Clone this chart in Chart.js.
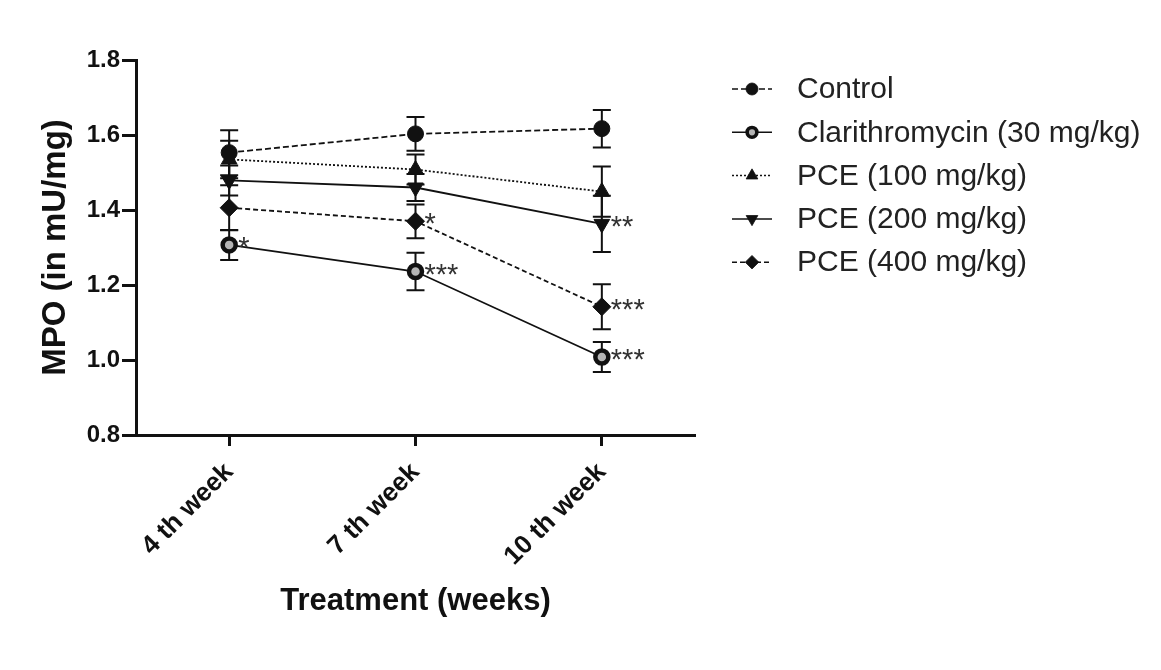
<!DOCTYPE html>
<html>
<head>
<meta charset="utf-8">
<script src="https://cdn.jsdelivr.net/npm/chart.js@4/dist/chart.umd.min.js"></script>
<style>
    body { margin: 0; background: #fff; }
    canvas { display: block; }
</style>
</head>
<body>
<canvas id="chart" width="1161" height="670"></canvas>
<script>
// weeks on the x axis
const weeks = ["4 th week", "7 th week", "10 th week"];

// group means (MPO, mU/mg)
const control = [1.553, 1.603, 1.617];
const clarithromycin = [1.307, 1.236, 1.008];
const pce100 = [1.535, 1.508, 1.449];
const pce200 = [1.479, 1.460, 1.363];
const pce400 = [1.406, 1.370, 1.142];

// error bars (+/-)
const controlErr = [0.06, 0.045, 0.05];
const clarithromycinErr = [0.04, 0.05, 0.04];
const pce100Err = [0.05, 0.04, 0.067];
const pce200Err = [0.04, 0.036, 0.075];
const pce400Err = [0.06, 0.045, 0.06];

// significance marks
const controlStars = ["", "", ""];
const clarithromycinStars = ["*", "***", "***"];
const pce100Stars = ["", "", ""];
const pce200Stars = ["", "", "**"];
const pce400Stars = ["", "*", "***"];

const yTicks = [0.8, 1.0, 1.2, 1.4, 1.6, 1.8];

const ink = "#111";
const font = "'Liberation Sans', Arial, sans-serif";

function series(label, data, err, stars, style) {
    return Object.assign({
        label: label,
        data: data,
        errors: err,
        stars: stars,
        borderColor: ink,
        backgroundColor: ink,
        pointBorderColor: ink,
        pointBackgroundColor: ink,
        borderWidth: 1.8,
        pointRadius: 8,
        pointBorderWidth: 1,
        tension: 0,
        fill: false
    }, style);
}

const datasets = [
    series("Control", control, controlErr, controlStars, {
        pointStyle: "circle", borderDash: [6, 3]
    }),
    series("Clarithromycin (30 mg/kg)", clarithromycin, clarithromycinErr, clarithromycinStars, {
        pointStyle: "circle", pointRadius: 6.5, pointBorderWidth: 4.5, pointBackgroundColor: "#b5b5b5"
    }),
    series("PCE (100 mg/kg)", pce100, pce100Err, pce100Stars, {
        pointStyle: "triangle", pointRadius: 9, borderDash: [2, 2]
    }),
    series("PCE (200 mg/kg)", pce200, pce200Err, pce200Stars, {
        pointStyle: "triangle", pointRadius: 9, pointRotation: 180
    }),
    series("PCE (400 mg/kg)", pce400, pce400Err, pce400Stars, {
        pointStyle: "rectRot", pointRadius: 9, borderDash: [5, 3]
    })
];

// error bars under the markers
const errorBars = {
    id: "errorBars",
    beforeDatasetsDraw(chart) {
        const ctx = chart.ctx;
        const y = chart.scales.y;
        ctx.save();
        ctx.strokeStyle = ink;
        ctx.lineWidth = 2;
        chart.data.datasets.forEach((ds, i) => {
            const meta = chart.getDatasetMeta(i);
            meta.data.forEach((pt, j) => {
                const top = y.getPixelForValue(ds.data[j] + ds.errors[j]);
                const bottom = y.getPixelForValue(ds.data[j] - ds.errors[j]);
                ctx.beginPath();
                ctx.moveTo(pt.x, top);
                ctx.lineTo(pt.x, bottom);
                ctx.moveTo(pt.x - 9, top);
                ctx.lineTo(pt.x + 9, top);
                ctx.moveTo(pt.x - 9, bottom);
                ctx.lineTo(pt.x + 9, bottom);
                ctx.stroke();
            });
        });
        ctx.restore();
    }
};

// asterisks next to the points
const starLabels = {
    id: "starLabels",
    afterDatasetsDraw(chart) {
        const ctx = chart.ctx;
        ctx.save();
        ctx.fillStyle = "#333";
        ctx.font = "29px " + font;
        ctx.textAlign = "left";
        ctx.textBaseline = "middle";
        chart.data.datasets.forEach((ds, i) => {
            const meta = chart.getDatasetMeta(i);
            meta.data.forEach((pt, j) => {
                if (ds.stars[j]) ctx.fillText(ds.stars[j], pt.x + 9, pt.y + 4);
            });
        });
        ctx.restore();
    }
};

// legend at the right, line + marker + text
const sideLegend = {
    id: "sideLegend",
    afterDraw(chart) {
        const ctx = chart.ctx;
        const x0 = 732, x1 = 772, tx = 797;
        ctx.save();
        chart.data.datasets.forEach((ds, i) => {
            const cy = 89 + i * 43.3;
            ctx.strokeStyle = ink;
            ctx.lineWidth = 1.5;
            ctx.setLineDash(ds.borderDash || []);
            ctx.beginPath();
            ctx.moveTo(x0, cy);
            ctx.lineTo(x1, cy);
            ctx.stroke();
            ctx.setLineDash([]);
            ctx.fillStyle = ds.pointBackgroundColor;
            ctx.strokeStyle = ink;
            ctx.lineWidth = ds.pointBorderWidth * 0.8;
            Chart.helpers.drawPoint(ctx, {
                pointStyle: ds.pointStyle,
                radius: ds.pointRadius * 0.75,
                rotation: ds.pointRotation || 0,
                borderWidth: ds.pointBorderWidth * 0.8
            }, (x0 + x1) / 2, cy);
            ctx.fillStyle = "#222";
            ctx.font = "30px " + font;
            ctx.textAlign = "left";
            ctx.textBaseline = "middle";
            ctx.fillText(ds.label, tx, cy + 1);
        });
        ctx.restore();
    }
};

new Chart(document.getElementById("chart"), {
    type: "line",
    data: {
        labels: weeks,
        datasets: datasets
    },
    plugins: [errorBars, starLabels, sideLegend],
    options: {
        responsive: false,
        animation: false,
        layout: {
            padding: { left: 0, top: 60, right: 466, bottom: 0 }
        },
        plugins: {
            legend: { display: false },
            tooltip: { enabled: false }
        },
        scales: {
            x: {
                type: "category",
                offset: true,
                grid: { drawOnChartArea: false, tickLength: 11, tickWidth: 3, tickColor: ink },
                border: { color: ink, width: 3 },
                ticks: {
                    minRotation: 45,
                    maxRotation: 45,
                    color: ink,
                    padding: 11,
                    font: { family: font, size: 26, weight: "bold" }
                },
                title: {
                    display: true,
                    text: "Treatment (weeks)",
                    color: ink,
                    font: { family: font, size: 31, weight: "bold" },
                    padding: { top: 0, bottom: 50 }
                },
                afterFit(scale) { scale.height = 235; }
            },
            y: {
                min: 0.8,
                max: 1.8,
                afterBuildTicks(scale) {
                    scale.ticks = yTicks.map(v => ({ value: v }));
                },
                grid: { drawOnChartArea: false, tickLength: 14, tickWidth: 3, tickColor: ink },
                border: { color: ink, width: 3 },
                ticks: {
                    color: ink,
                    padding: 2,
                    font: { family: font, size: 24, weight: "bold" },
                    callback: v => v.toFixed(1)
                },
                title: {
                    display: true,
                    text: "MPO (in mU/mg)",
                    color: ink,
                    font: { family: font, size: 33, weight: "bold" },
                    padding: { top: 36, bottom: 0 }
                },
                afterFit(scale) { scale.width = 136; }
            }
        }
    }
});
</script>
</body>
</html>
